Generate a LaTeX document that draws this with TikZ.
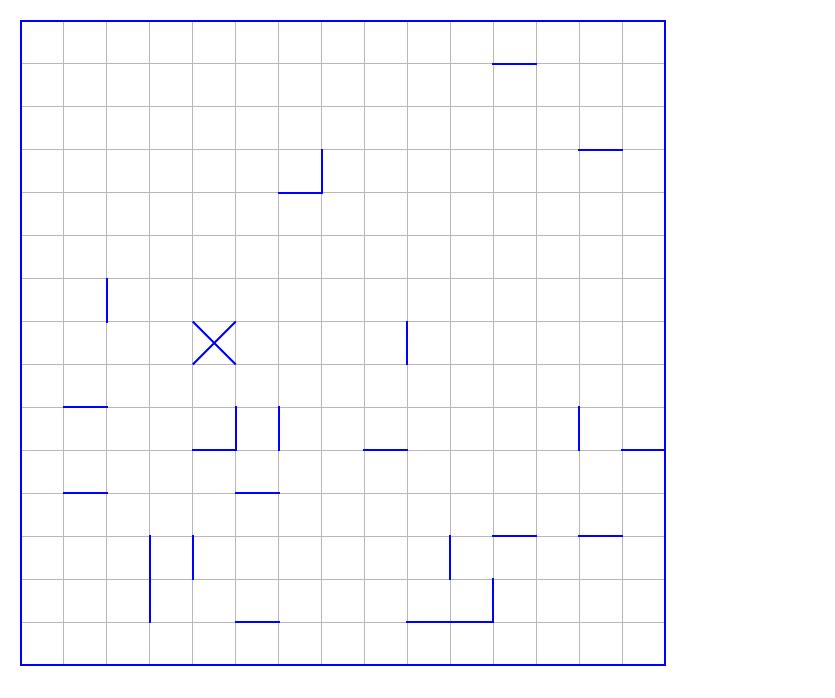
\documentclass[tikz,border=0pt]{standalone}
\begin{document}
\begin{tikzpicture}[x=42.933pt,y=-42.933pt,
  gridline/.style={draw=black!28,line width=1pt},
  wall/.style={draw=blue,line width=2pt,line cap=rect},
  border/.style={draw=blue,line width=2pt}]
% bounding box: 835 x 698 px, grid origin at (21,21) px
\useasboundingbox (-0.48913,-0.48913) rectangle (18.9598,15.7688);
\foreach \i in {1,...,14} {
  \draw[gridline] (\i,0) -- (\i,15);
  \draw[gridline] (0,\i) -- (15,\i);
}
\draw[border] (0,0) rectangle (15,15);
% walls
\draw[wall] (11,1) -- (12,1);
\draw[wall] (13,3) -- (14,3);
\draw[wall] (7,3) -- (7,4) -- (6,4);
\draw[wall] (2,6) -- (2,7);
\draw[wall,line cap=butt] (4,7) -- (5,8);
\draw[wall,line cap=butt] (5,7) -- (4,8);
\draw[wall] (9,7) -- (9,8);
\draw[wall] (1,9) -- (2,9);
\draw[wall] (5,9) -- (5,10) -- (4,10);
\draw[wall] (6,9) -- (6,10);
\draw[wall] (8,10) -- (9,10);
\draw[wall] (13,9) -- (13,10);
\draw[wall] (14,10) -- (15,10);
\draw[wall] (1,11) -- (2,11);
\draw[wall] (5,11) -- (6,11);
\draw[wall] (3,12) -- (3,14);
\draw[wall] (4,12) -- (4,13);
\draw[wall] (10,12) -- (10,13);
\draw[wall] (11,12) -- (12,12);
\draw[wall] (13,12) -- (14,12);
\draw[wall] (5,14) -- (6,14);
\draw[wall] (9,14) -- (11,14) -- (11,13);
\end{tikzpicture}
\end{document}
